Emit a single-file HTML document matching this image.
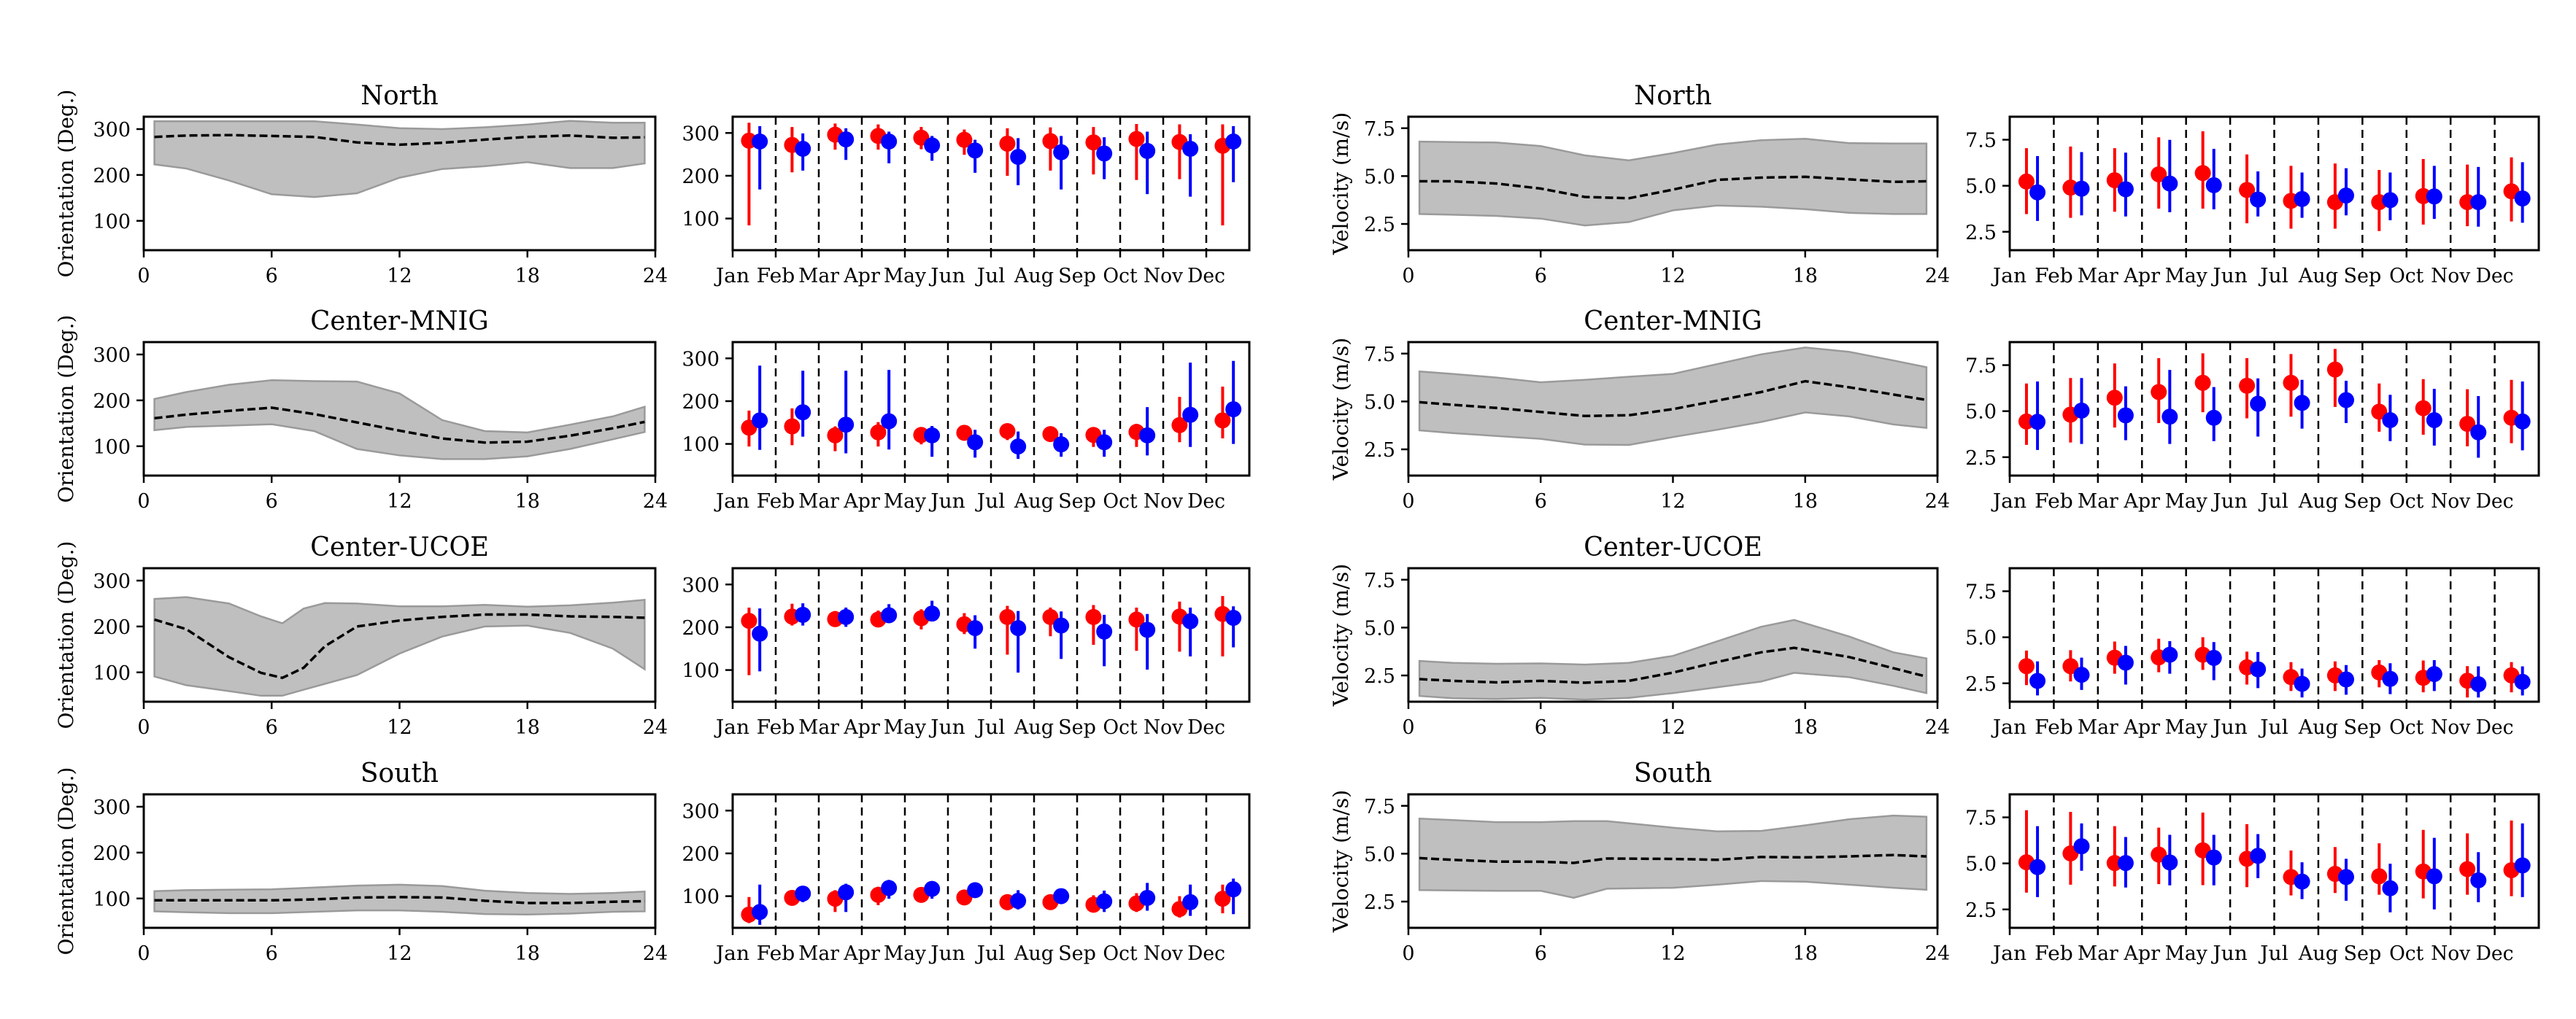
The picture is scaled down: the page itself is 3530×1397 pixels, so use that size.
<!DOCTYPE html>
<html><head><meta charset="utf-8"><style>
html,body{margin:0;padding:0;background:#fff;}
svg{display:block;font-family:"DejaVu Serif","Liberation Serif",serif;}
</style></head><body>
<svg id="fig" width="3530" height="1397" viewBox="0 0 3530 1397" xmlns="http://www.w3.org/2000/svg"></svg>
<script>
// ---------- DATA ----------
const months = ["Jan","Feb","Mar","Apr","May","Jun","Jul","Aug","Sep","Oct","Nov","Dec"];
const stdHours = [0.5,2,4,6,8,10,12,14,16,18,20,22,23.5];
const siteNames = ["North","Center-MNIG","Center-UCOE","South"];
const oriTicks = [100,200,300];
const velTicks = [2.5,5.0,7.5];
const hourTicks = [0,6,12,18,24];

// North orientation band
const northOriHours = stdHours;
const northOriUpper = [317,317,317,317,317,310,302,300,304,310,318,314,314];
const northOriMean  = [283,286,287,285,283,271,266,270,277,283,286,281,282];
const northOriLower = [223,214,188,158,152,160,194,213,219,228,215,215,225];
// Center-MNIG orientation band
const mnigOriHours = stdHours;
const mnigOriUpper = [203,218,234,244,242,241,215,157,133,130,147,165,186];
const mnigOriMean  = [161,169,177,184,170,152,134,117,108,110,123,139,153];
const mnigOriLower = [135,142,145,148,133,94,80,72,72,78,94,115,131];
// Center-UCOE orientation band
const ucoeOriHours = [0.5,2,4,5.5,6.5,7.5,8.5,10,12,14,16,18,20,22,23.5];
const ucoeOriUpper = [260,264,250,222,207,239,251,250,244,244,247,243,246,252,258];
const ucoeOriMean  = [215,194,133,99,88,110,157,200,213,221,226,226,222,221,219];
const ucoeOriLower = [91,72,59,49,49,62,75,94,141,178,200,202,186,152,107];
// South orientation band
const southOriHours = stdHours;
const southOriUpper = [116,118,119,120,124,128,130,127,117,112,110,112,115];
const southOriMean  = [96,96,96,96,98,102,103,102,95,90,90,93,94];
const southOriLower = [72,70,68,68,71,74,74,71,66,65,67,71,72];

// Velocity bands
const northVelHours = stdHours;
const northVelUpper = [6.80,6.78,6.75,6.57,6.08,5.82,6.20,6.64,6.87,6.95,6.72,6.70,6.70];
const northVelMean  = [4.73,4.73,4.61,4.35,3.91,3.84,4.29,4.80,4.92,4.96,4.83,4.70,4.73];
const northVelLower = [3.02,2.98,2.92,2.78,2.42,2.60,3.21,3.46,3.40,3.27,3.08,3.02,3.02];
const mnigVelHours = stdHours;
const mnigVelUpper = [6.57,6.44,6.25,6.00,6.13,6.29,6.44,6.95,7.46,7.82,7.59,7.14,6.79];
const mnigVelMean  = [4.96,4.83,4.66,4.45,4.24,4.28,4.60,5.04,5.49,6.06,5.74,5.36,5.08];
const mnigVelLower = [3.49,3.35,3.20,3.05,2.75,2.73,3.14,3.52,3.93,4.43,4.22,3.80,3.62];
const ucoeVelHours = [0.5,2,4,6,8,10,12,14,16,17.5,20,22,23.5];
const ucoeVelUpper = [3.26,3.16,3.11,3.13,3.07,3.16,3.52,4.28,5.04,5.40,4.53,3.71,3.39];
const ucoeVelMean  = [2.31,2.22,2.14,2.22,2.12,2.22,2.65,3.20,3.71,3.94,3.46,2.88,2.44];
const ucoeVelLower = [1.43,1.31,1.27,1.33,1.24,1.33,1.58,1.88,2.18,2.64,2.41,1.96,1.58];
const southVelHours = [0.5,2,4,6,7.5,9,12,14,16,18,20,22,23.5];
const southVelUpper = [6.83,6.76,6.65,6.65,6.70,6.70,6.36,6.17,6.19,6.48,6.80,6.99,6.93];
const southVelMean  = [4.77,4.68,4.59,4.58,4.52,4.75,4.73,4.68,4.83,4.81,4.86,4.93,4.86];
const southVelLower = [3.10,3.08,3.06,3.06,2.70,3.17,3.22,3.38,3.57,3.54,3.38,3.22,3.12];

// Monthly orientation (red / blue: mean, low, high)
const northOriRedMean = [282,272,296,293,289,284,275,281,278,286,279,270];
const northOriRedLow  = [84,208,261,261,262,249,200,212,203,190,192,84];
const northOriRedHigh = [324,314,322,320,314,308,311,313,314,321,320,320];
const northOriBlueMean = [280,263,285,280,271,259,244,255,252,258,263,280];
const northOriBlueLow  = [168,212,237,229,235,207,178,168,192,157,151,185];
const northOriBlueHigh = [316,299,311,303,293,284,288,293,290,303,297,316];
const mnigOriRedMean = [138,141,120,127,121,126,130,123,121,128,144,155];
const mnigOriRedLow  = [94,97,83,94,99,108,109,107,93,93,104,113];
const mnigOriRedHigh = [178,183,141,151,138,138,144,141,137,147,210,234];
const mnigOriBlueMean = [155,174,145,153,120,104,94,99,104,120,168,181];
const mnigOriBlueLow  = [86,117,78,87,70,68,65,70,70,73,93,100];
const mnigOriBlueHigh = [283,271,271,273,142,133,129,125,133,186,290,294];
const ucoeOriRedMean = [215,225,219,218,221,207,224,224,224,218,225,231];
const ucoeOriRedLow  = [88,204,202,201,195,184,136,179,159,145,143,132];
const ucoeOriRedHigh = [246,255,238,239,242,233,250,246,252,246,260,273];
const ucoeOriBlueMean = [185,229,224,228,232,198,198,204,190,194,214,222];
const ucoeOriBlueLow  = [97,204,201,211,218,150,94,126,109,101,132,153];
const ucoeOriBlueHigh = [244,256,246,254,262,228,238,237,229,231,246,249];
const southOriRedMean = [57,96,94,103,103,97,86,86,80,83,70,94];
const southOriRedLow  = [37,79,63,79,86,81,67,70,63,63,50,60];
const southOriRedHigh = [98,111,114,122,120,115,102,103,102,107,100,127];
const southOriBlueMean = [63,106,109,119,117,114,89,100,88,96,86,116];
const southOriBlueLow  = [33,86,63,94,94,97,69,83,63,66,54,58];
const southOriBlueHigh = [127,121,129,138,133,130,114,116,113,131,127,141];

// Monthly velocity
const northVelRedMean = [5.23,4.90,5.30,5.62,5.69,4.77,4.18,4.11,4.11,4.44,4.11,4.70];
const northVelRedLow  = [3.46,3.26,3.59,3.76,3.76,2.96,2.67,2.67,2.54,2.89,2.80,3.06];
const northVelRedHigh = [7.04,7.13,7.04,7.63,7.96,6.70,6.08,6.21,5.86,6.45,6.15,6.54];
const northVelBlueMean = [4.64,4.84,4.81,5.12,5.03,4.25,4.28,4.47,4.22,4.42,4.11,4.31];
const northVelBlueLow  = [3.09,3.39,3.33,3.56,3.72,3.33,3.26,3.39,3.13,3.20,2.78,2.99];
const northVelBlueHigh = [6.61,6.83,6.80,7.49,7.00,5.78,5.72,5.95,5.72,6.08,6.02,6.28];
const mnigVelRedMean = [4.44,4.81,5.73,6.04,6.54,6.38,6.54,7.26,4.97,5.16,4.31,4.64];
const mnigVelRedLow  = [3.17,3.30,4.11,4.35,4.94,4.61,4.70,5.23,3.88,3.72,3.09,3.26];
const mnigVelRedHigh = [6.50,6.80,7.59,7.88,8.14,7.88,8.10,8.38,6.50,6.74,6.19,6.70];
const mnigVelBlueMean = [4.42,5.03,4.77,4.70,4.64,5.40,5.45,5.60,4.51,4.51,3.85,4.44];
const mnigVelBlueLow  = [2.89,3.22,3.42,3.22,3.37,3.62,4.05,4.35,3.37,3.13,2.47,2.87];
const mnigVelBlueHigh = [6.61,6.80,6.35,7.24,6.31,6.78,6.70,6.65,5.89,6.21,5.82,6.61];
const ucoeVelRedMean = [3.43,3.43,3.89,3.91,4.05,3.37,2.84,2.93,3.09,2.80,2.64,2.93];
const ucoeVelRedLow  = [2.40,2.60,3.02,3.10,3.23,2.43,2.08,2.08,2.28,2.01,1.73,2.01];
const ucoeVelRedHigh = [4.28,4.30,4.77,4.92,5.00,4.22,3.65,3.69,3.76,3.74,3.43,3.65];
const ucoeVelBlueMean = [2.63,2.96,3.62,4.05,3.88,3.26,2.47,2.71,2.74,3.00,2.45,2.58];
const ucoeVelBlueLow  = [1.84,2.14,2.43,3.02,2.67,2.24,1.73,1.88,1.91,2.08,1.73,1.84];
const ucoeVelBlueHigh = [3.69,3.89,4.53,4.79,4.74,4.20,3.30,3.49,3.59,3.76,3.42,3.42];
const southVelRedMean = [5.06,5.54,5.02,5.48,5.71,5.25,4.26,4.43,4.30,4.56,4.69,4.63];
const southVelRedLow  = [3.41,3.84,3.75,3.87,3.82,3.71,3.26,3.39,3.30,3.10,3.30,3.22];
const southVelRedHigh = [7.89,7.80,7.02,6.94,7.76,7.13,5.70,5.89,6.09,6.82,6.63,7.33];
const southVelBlueMean = [4.80,5.93,5.02,5.05,5.32,5.41,4.01,4.26,3.65,4.30,4.08,4.89];
const southVelBlueLow  = [3.17,4.60,3.69,3.81,3.81,4.20,3.06,2.97,2.34,2.50,2.89,3.17];
const southVelBlueHigh = [7.02,7.17,6.43,6.55,6.55,6.59,5.06,5.25,4.98,6.39,5.61,7.17];

// ---------- DRAWING ----------
const svg = document.getElementById('fig');
const NS = 'http://www.w3.org/2000/svg';
function mk(tag, attrs, parent){ const e=document.createElementNS(NS,tag); for(const k in attrs) e.setAttribute(k,attrs[k]); (parent||svg).appendChild(e); return e; }
// approximate DejaVu Serif advance widths (em)
const W = {'0':.636,'1':.636,'2':.636,'3':.636,'4':.636,'5':.636,'6':.636,'7':.636,'8':.636,'9':.636,'.':.318,' ':.318,'(':.39,')':.39,'/':.337,'-':.338,
a:.596,b:.64,c:.56,d:.64,e:.592,g:.64,h:.644,i:.32,l:.32,m:.948,n:.644,o:.602,p:.64,r:.478,s:.513,t:.402,u:.644,v:.565,y:.565,
A:.722,C:.734,D:.77,E:.683,F:.72,G:.806,I:.372,J:.47,M:.995,N:.835,O:.787,S:.685,U:.812,V:.722};
function tw(s,fs){ let w=0; for(const ch of s) w+=(W[ch]||.6); return w*fs; }
function txt(parent,s,attrs,fs){
  const t=mk('text',Object.assign({'font-size':fs,textLength:tw(s,fs).toFixed(1),lengthAdjust:'spacingAndGlyphs'},attrs),parent);
  t.textContent=s; return t;
}

const rowTops = [160,469,779,1089];
const rowH = 183;
const cols = {
  oriBand:{x0:197,x1:898,ymin:36,ymax:327},
  oriMon:{x0:1004,x1:1712,ymin:26,ymax:338},
  velBand:{x0:1930,x1:2655,ymin:1.13,ymax:8.1},
  velMon:{x0:2754,x1:3479,ymin:1.5,ymax:8.75}
};
const bandData = {
  ori:[[northOriHours,northOriUpper,northOriMean,northOriLower],[mnigOriHours,mnigOriUpper,mnigOriMean,mnigOriLower],[ucoeOriHours,ucoeOriUpper,ucoeOriMean,ucoeOriLower],[southOriHours,southOriUpper,southOriMean,southOriLower]],
  vel:[[northVelHours,northVelUpper,northVelMean,northVelLower],[mnigVelHours,mnigVelUpper,mnigVelMean,mnigVelLower],[ucoeVelHours,ucoeVelUpper,ucoeVelMean,ucoeVelLower],[southVelHours,southVelUpper,southVelMean,southVelLower]]
};
const monData = {
  ori:[[northOriRedMean,northOriRedLow,northOriRedHigh,northOriBlueMean,northOriBlueLow,northOriBlueHigh],
       [mnigOriRedMean,mnigOriRedLow,mnigOriRedHigh,mnigOriBlueMean,mnigOriBlueLow,mnigOriBlueHigh],
       [ucoeOriRedMean,ucoeOriRedLow,ucoeOriRedHigh,ucoeOriBlueMean,ucoeOriBlueLow,ucoeOriBlueHigh],
       [southOriRedMean,southOriRedLow,southOriRedHigh,southOriBlueMean,southOriBlueLow,southOriBlueHigh]],
  vel:[[northVelRedMean,northVelRedLow,northVelRedHigh,northVelBlueMean,northVelBlueLow,northVelBlueHigh],
       [mnigVelRedMean,mnigVelRedLow,mnigVelRedHigh,mnigVelBlueMean,mnigVelBlueLow,mnigVelBlueHigh],
       [ucoeVelRedMean,ucoeVelRedLow,ucoeVelRedHigh,ucoeVelBlueMean,ucoeVelBlueLow,ucoeVelBlueHigh],
       [southVelRedMean,southVelRedLow,southVelRedHigh,southVelBlueMean,southVelBlueLow,southVelBlueHigh]]
};

const TFS = 27;
function yScale(c,top){ return v => top + rowH - (v-c.ymin)/(c.ymax-c.ymin)*rowH; }
function yTicks(g,c,ys,ticks,fmt){
  ticks.forEach(t=>{
    const y=ys(t);
    mk('line',{x1:c.x0-10,x2:c.x0,y1:y,y2:y,stroke:'#000','stroke-width':2.5},g);
    const s=String(fmt(t));
    const tx=txt(g,s,{x:(c.x0-18-tw(s,TFS)).toFixed(1),y:y+10,fill:'#000'},TFS);
    
    
  });
}
function frame(g,c,top){
  const r=mk('rect',{x:c.x0,y:top,width:c.x1-c.x0,height:rowH,fill:'none',stroke:'#000','stroke-width':3},g);
  
  
}
function xLabel(g,s,x,y,name){
  const tx=txt(g,s,{x:(x-tw(s,TFS)/2).toFixed(1),y:y},TFS);
  
  
}

for(let r=0;r<4;r++){
  const top=rowTops[r];
  ['ori','vel'].forEach(kind=>{
    // ---- band panel ----
    const c = cols[kind+'Band'];
    const g = mk('g',{});
    
    
    const xs = h => c.x0 + h/24*(c.x1-c.x0);
    const ys = yScale(c,top);
    const [hrs,up,mean,lo] = bandData[kind][r];
    let d='';
    hrs.forEach((h,i)=>{ d+=(i?'L':'M')+xs(h).toFixed(1)+','+ys(up[i]).toFixed(1); });
    for(let i=hrs.length-1;i>=0;i--) d+='L'+xs(hrs[i]).toFixed(1)+','+ys(lo[i]).toFixed(1);
    const band=mk('path',{d:d+'Z',fill:'#bfbfbf',stroke:'#9a9a9a','stroke-width':2.5},g);
    
    
    let dm='';
    hrs.forEach((h,i)=>{ dm+=(i?'L':'M')+xs(h).toFixed(1)+','+ys(mean[i]).toFixed(1); });
    const ml=mk('path',{d:dm,fill:'none',stroke:'#000','stroke-width':3.5,'stroke-dasharray':'11,5'},g);
    
    
    frame(g,c,top);
    hourTicks.forEach(t=>{
      const x=xs(t);
      mk('line',{x1:x,x2:x,y1:top+rowH,y2:top+rowH+10,stroke:'#000','stroke-width':2.5},g);
      xLabel(g,String(t),x,top+rowH+44,'x-tick-label');
    });
    yTicks(g,c,ys,kind==='ori'?oriTicks:velTicks,kind==='ori'?(v=>v):(v=>v.toFixed(1)));
    const ts=siteNames[r];
    const title=txt(g,ts,{x:((c.x0+c.x1)/2-tw(ts,36)/2).toFixed(1),y:top-17},36);
    
    
    const lx = kind==='ori'? 100 : 1847;
    const ls = kind==='ori'?'Orientation (Deg.)':'Velocity (m/s)';
    const lw = tw(ls,28);
    const cy = top+rowH/2;
    const yl=txt(g,ls,{x:(lx-lw/2).toFixed(1),y:cy,transform:`rotate(-90 ${lx} ${cy})`},28);
    
    

    // ---- monthly panel ----
    const cm = cols[kind+'Mon'];
    const gm = mk('g',{});
    
    
    const mx = i => cm.x0 + i/12*(cm.x1-cm.x0);
    const my = yScale(cm,top);
    for(let i=1;i<12;i++){
      const dv=mk('line',{x1:mx(i),x2:mx(i),y1:top,y2:top+rowH,stroke:'#000','stroke-width':2.5,'stroke-dasharray':'11,7'},gm);
      
      
    }
    const [rm,rl,rh,bm,bl,bh] = monData[kind][r];
    months.forEach((m,i)=>{
      [[rm,rl,rh,'#ff0000',0.38,'red'],[bm,bl,bh,'#0000ff',0.63,'blue']].forEach(([M,L,H,col,off,nm])=>{
        const x=mx(i+off);
        const eb=mk('line',{x1:x,x2:x,y1:my(L[i]),y2:my(H[i]),stroke:col,'stroke-width':4},gm);
        
        
        const dot=mk('circle',{cx:x,cy:my(M[i]),r:11,fill:col},gm);
        
        
      });
      mk('line',{x1:mx(i),x2:mx(i),y1:top+rowH,y2:top+rowH+10,stroke:'#000','stroke-width':2.5},gm);
      xLabel(gm,m,mx(i),top+rowH+44,'month-tick-label');
    });
    frame(gm,cm,top);
    yTicks(gm,cm,my,kind==='ori'?oriTicks:velTicks,kind==='ori'?(v=>v):(v=>v.toFixed(1)));
  });
}
</script>
</body></html>
